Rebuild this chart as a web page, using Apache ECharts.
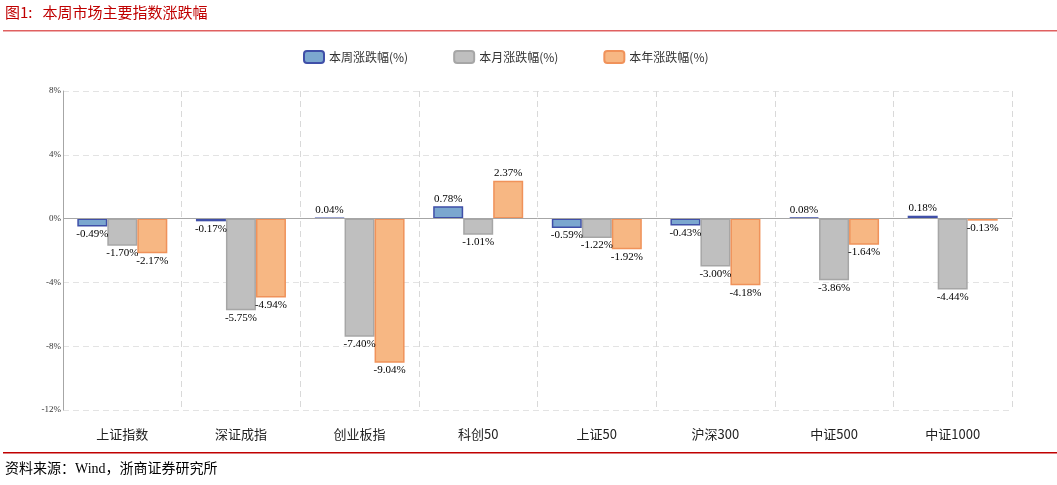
<!DOCTYPE html>
<html>
<head>
<meta charset="utf-8">
<script src="https://cdn.jsdelivr.net/npm/echarts@6/dist/echarts.min.js"></script>
<style>html,body{margin:0;padding:0;background:#fff}#chart{width:1057px;height:485px}</style>
</head>
<body>
<div id="chart"></div>
<script>
const categories = ['上证指数', '深证成指', '创业板指', '科创50', '上证50', '沪深300', '中证500', '中证1000'];
const weekValues = [-0.49, -0.17, 0.04, 0.78, -0.59, -0.43, 0.08, 0.18];
const monthValues = [-1.70, -5.75, -7.40, -1.01, -1.22, -3.00, -3.86, -4.44];
const yearValues = [-2.17, -4.94, -9.04, 2.37, -1.92, -4.18, -1.64, -0.13];
const seriesNames = ['本周涨跌幅(%)', '本月涨跌幅(%)', '本年涨跌幅(%)'];

const serif = '"Liberation Serif", "Noto Sans CJK SC", serif';
const chart = echarts.init(document.getElementById('chart'));

const makeSeries = (name, data, fill, border) => ({
  name,
  type: 'bar',
  data,
  barWidth: 30,
  barGap: '0%',
  itemStyle: { color: fill, borderColor: border, borderWidth: 1.5 },
  label: {
    show: true,
    formatter: p => p.value.toFixed(2) + '%',
    position: 'top',
    color: '#000',
    fontFamily: serif,
    fontSize: 11,
    distance: 2
  },
  labelLayout: p => ({}),
});

const s = [
  makeSeries(seriesNames[0], weekValues, '#7ba7cf', '#3f4fa8'),
  makeSeries(seriesNames[1], monthValues, '#bfbfbf', '#a6a6a6'),
  makeSeries(seriesNames[2], yearValues, '#f7b783', '#f0925a')
];
s.forEach(ser => {
  ser.data = ser.data.map(v => ({ value: v, label: { position: v < 0 ? 'bottom' : 'top' } }));
});
s[0].markLine = {
  silent: true,
  symbol: 'none',
  label: { show: false },
  lineStyle: { color: '#a6a6a6', type: 'solid', width: 1 },
  data: [{ yAxis: 0 }]
};

chart.setOption({
  animation: false,
  color: ['#7ba7cf', '#bfbfbf', '#f7b783'],
  graphic: [
    { type: 'text', left: 5, top: 5, style: { text: '图1:   本周市场主要指数涨跌幅', fill: '#c00000', font: '15px "Noto Sans CJK SC"' } },
    { type: 'rect', shape: { x: 3, y: 30, width: 1054, height: 1.5 }, style: { fill: '#e06060' } },
    { type: 'rect', shape: { x: 3, y: 452, width: 1054, height: 1.5 }, style: { fill: '#c00000' } },
    { type: 'text', left: 5, top: 462, style: { text: '资料来源：Wind，浙商证券研究所', fill: '#000', font: '14px ' + serif } }
  ],
  legend: {
    top: 45,
    left: 298,
    itemWidth: 20,
    itemHeight: 12,
    itemGap: 45,
    textStyle: { fontSize: 12, color: '#333', fontFamily: '"Noto Sans CJK SC"' },
    data: seriesNames
  },
  grid: { left: 63, right: 45, top: 91, bottom: 75 },
  xAxis: {
    type: 'category',
    data: categories,
    axisLine: { show: false },
    axisTick: { show: false },
    axisLabel: { color: '#222', fontSize: 13, margin: 18, fontFamily: '"Noto Sans CJK SC"' },
    splitLine: { show: true, lineStyle: { color: '#d9d9d9', type: [6, 4] } }
  },
  yAxis: {
    type: 'value',
    min: -12,
    max: 8,
    interval: 4,
    axisLine: { show: true, lineStyle: { color: '#a6a6a6' } },
    axisTick: { show: false },
    axisLabel: { formatter: '{value}%', fontSize: 9, color: '#333', fontFamily: serif, margin: 2 },
    splitLine: { show: true, lineStyle: { color: '#e3e3e3', type: [6, 4] } }
  },
  series: s
});
</script>
</body>
</html>
